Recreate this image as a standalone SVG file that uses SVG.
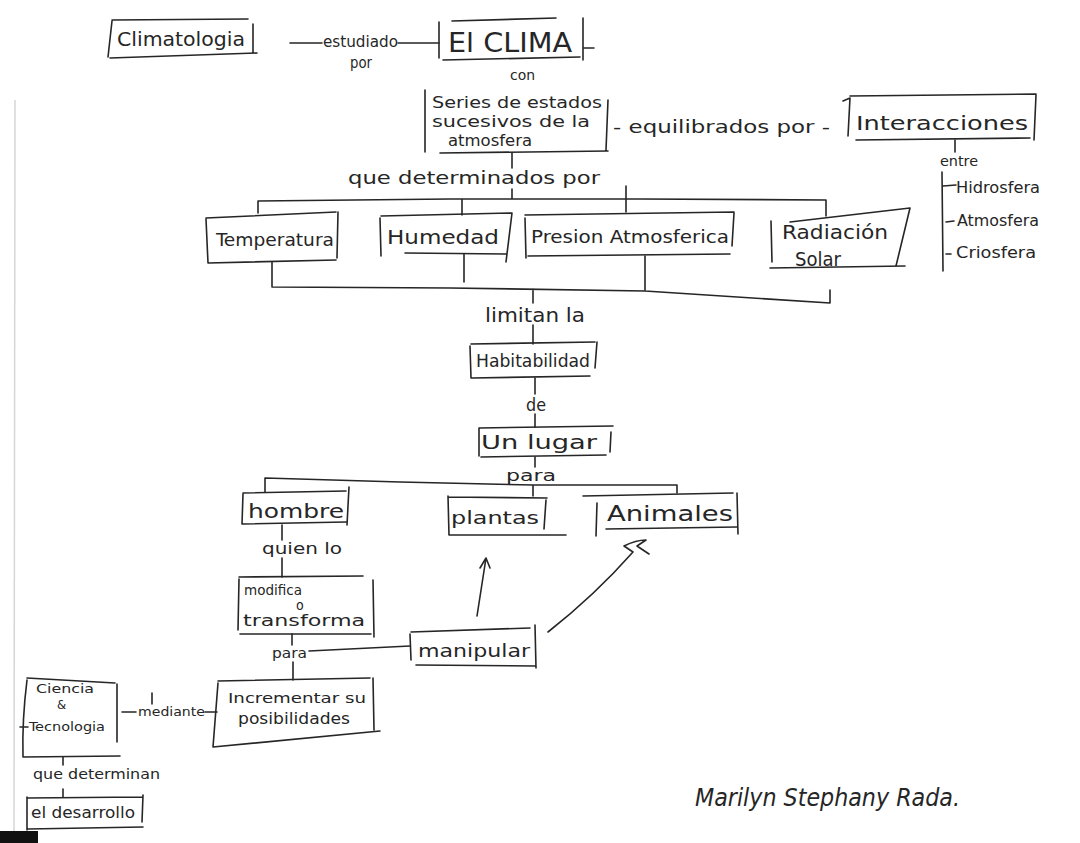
<svg xmlns="http://www.w3.org/2000/svg" width="1080" height="843" viewBox="0 0 1080 843">
  <defs>
    <style>
      .pen { fill: none; stroke: #262626; stroke-width: 1.6; stroke-linecap: round; stroke-linejoin: round; }
      .ink { fill: #262626; font-family: "Liberation Sans Narrow", "DejaVu Sans Condensed", "Liberation Sans", sans-serif; }
      .edge { fill: none; stroke: #d6d6d6; stroke-width: 1.5; }
    </style>
  </defs>

  <rect x="0" y="0" width="1080" height="843" fill="#ffffff"/>

  <!-- paper edge and scanner bar -->
  <path class="edge" d="M15 100 L14 836"/>
  <rect x="0" y="831" width="38" height="12" fill="#111111"/>

  <!-- Climatologia -->
  <g id="climatologia">
    <path class="pen" d="M112 21 L108 57 M112 20 L248 19 M253 24 L253 52 M110 58 L257 53"/>
    <text class="ink" x="117" y="46" font-size="20" textLength="128" lengthAdjust="spacingAndGlyphs">Climatologia</text>
  </g>

  <!-- El CLIMA -->
  <g id="el-clima">
    <path class="pen" d="M439 22 L439 58 M452 21 L556 18 M583 18 L583 60 M583 48 L594 48 M443 60 L580 57"/>
    <text class="ink" x="448" y="52" font-size="26" textLength="124" lengthAdjust="spacingAndGlyphs">El CLIMA</text>
  </g>

  <!-- Series de estados -->
  <g id="series">
    <path class="pen" d="M425 90 L425 152 M608 100 L606 150 M440 153 L608 151"/>
    <text class="ink" x="432" y="108" font-size="16" textLength="170" lengthAdjust="spacingAndGlyphs">Series de estados</text>
    <text class="ink" x="432" y="127" font-size="16" textLength="158" lengthAdjust="spacingAndGlyphs">sucesivos de la</text>
    <text class="ink" x="448" y="146" font-size="16" textLength="84" lengthAdjust="spacingAndGlyphs">atmosfera</text>
  </g>

  <!-- Interacciones -->
  <g id="interacciones">
    <path class="pen" d="M843 101 L850 98 L848 136 M850 96 L1036 94 M1036 95 L1034 140 M856 140 L1030 138"/>
    <text class="ink" x="856" y="130" font-size="20" textLength="172" lengthAdjust="spacingAndGlyphs">Interacciones</text>
  </g>

  <!-- Esferas -->
  <g id="esferas">
    <text class="ink" x="956" y="193" font-size="15" textLength="84" lengthAdjust="spacingAndGlyphs">Hidrosfera</text>
    <text class="ink" x="957" y="226" font-size="15" textLength="82" lengthAdjust="spacingAndGlyphs">Atmosfera</text>
    <text class="ink" x="956" y="258" font-size="15" textLength="80" lengthAdjust="spacingAndGlyphs">Criosfera</text>
  </g>

  <!-- Temperatura -->
  <g id="temperatura">
    <path class="pen" d="M206 219 L208 263 M206 218 L336 212 M338 212 L337 258 M208 263 L336 260"/>
    <text class="ink" x="216" y="246" font-size="18" textLength="118" lengthAdjust="spacingAndGlyphs">Temperatura</text>
  </g>

  <!-- Humedad -->
  <g id="humedad">
    <path class="pen" d="M380 218 L381 256 M381 216 L512 213 M512 213 L506 262 M405 253 L506 254"/>
    <text class="ink" x="387" y="244" font-size="19" textLength="112" lengthAdjust="spacingAndGlyphs">Humedad</text>
  </g>

  <!-- Presion Atmosferica -->
  <g id="presion">
    <path class="pen" d="M525 218 L526 258 M525 215 L734 212 M734 213 L732 246 M528 256 L730 254"/>
    <text class="ink" x="531" y="243" font-size="17" textLength="198" lengthAdjust="spacingAndGlyphs">Presion Atmosferica</text>
  </g>

  <!-- Radiación Solar -->
  <g id="radiacion">
    <path class="pen" d="M771 221 L772 262 M790 222 L910 208 M910 208 L896 266 M770 268 L905 266"/>
    <text class="ink" x="782" y="239" font-size="19" textLength="106" lengthAdjust="spacingAndGlyphs">Radiación</text>
    <text class="ink" x="795" y="266" font-size="19" textLength="46" lengthAdjust="spacingAndGlyphs">Solar</text>
  </g>

  <!-- Habitabilidad -->
  <g id="habitabilidad">
    <path class="pen" d="M470 346 L471 378 M471 344 L595 342 M597 342 L595 368 M472 378 L590 376"/>
    <text class="ink" x="476" y="367" font-size="18" textLength="114" lengthAdjust="spacingAndGlyphs">Habitabilidad</text>
  </g>

  <!-- Un lugar -->
  <g id="un-lugar">
    <path class="pen" d="M479 428 L479 456 M479 428 L613 426 M611 432 L610 452 M481 457 L606 455"/>
    <text class="ink" x="481" y="449" font-size="20" textLength="116" lengthAdjust="spacingAndGlyphs">Un lugar</text>
  </g>

  <!-- hombre -->
  <g id="hombre">
    <path class="pen" d="M243 494 L242 524 M243 493 L346 491 M349 487 L347 525 M243 524 L346 522"/>
    <text class="ink" x="248" y="518" font-size="19" textLength="96" lengthAdjust="spacingAndGlyphs">hombre</text>
  </g>

  <!-- plantas -->
  <g id="plantas">
    <path class="pen" d="M448 496 L449 535 M448 497 L547 498 M546 500 L544 529 M450 535 L566 535"/>
    <text class="ink" x="451" y="524" font-size="18" textLength="88" lengthAdjust="spacingAndGlyphs">plantas</text>
  </g>

  <!-- Animales -->
  <g id="animales">
    <path class="pen" d="M597 503 L596 536 M583 496 L733 493 M737 493 L738 534 M606 529 L737 527"/>
    <text class="ink" x="607" y="521" font-size="21" textLength="126" lengthAdjust="spacingAndGlyphs">Animales</text>
  </g>

  <!-- modifica o transforma -->
  <g id="modifica">
    <path class="pen" d="M239 579 L238 630 M239 577 L363 576 M373 580 L374 637 M240 634 L371 634"/>
    <text class="ink" x="244" y="595" font-size="14" textLength="58" lengthAdjust="spacingAndGlyphs">modifica</text>
    <text class="ink" x="296" y="610" font-size="14">o</text>
    <text class="ink" x="243" y="626" font-size="16" textLength="122" lengthAdjust="spacingAndGlyphs">transforma</text>
  </g>

  <!-- manipular -->
  <g id="manipular">
    <path class="pen" d="M410 634 L411 660 M411 632 L530 628 M535 625 L536 668 M416 665 L535 666"/>
    <text class="ink" x="418" y="657" font-size="18" textLength="112" lengthAdjust="spacingAndGlyphs">manipular</text>
  </g>

  <!-- Incrementar su posibilidades -->
  <g id="incrementar">
    <path class="pen" d="M218 683 L213 747 M218 681 L370 678 M373 678 L374 730 M213 747 L380 731"/>
    <text class="ink" x="228" y="703" font-size="14" textLength="138" lengthAdjust="spacingAndGlyphs">Incrementar su</text>
    <text class="ink" x="238" y="724" font-size="15" textLength="112" lengthAdjust="spacingAndGlyphs">posibilidades</text>
  </g>

  <!-- Ciencia & Tecnologia -->
  <g id="ciencia">
    <path class="pen" d="M27 680 Q22 720 23 757 M27 678 L115 683 M117 684 L117 742 M23 757 L120 756 M20 727 L28 727"/>
    <text class="ink" x="36" y="693" font-size="12" textLength="58" lengthAdjust="spacingAndGlyphs">Ciencia</text>
    <text class="ink" x="57" y="709" font-size="13">&amp;</text>
    <text class="ink" x="29" y="731" font-size="13" textLength="76" lengthAdjust="spacingAndGlyphs">Tecnologia</text>
  </g>

  <!-- el desarrollo -->
  <g id="desarrollo">
    <path class="pen" d="M27 797 L27 830 M27 798 L143 797 M143 795 L142 822 M28 829 L143 827"/>
    <text class="ink" x="31" y="818" font-size="15" textLength="104" lengthAdjust="spacingAndGlyphs">el desarrollo</text>
  </g>

  <!-- connectors and link labels -->
  <g id="connectors">
    <path class="pen" d="M290 43 L322 43 M398 43 L439 43"/>
    <text class="ink" x="323" y="47" font-size="16" textLength="75" lengthAdjust="spacingAndGlyphs">estudiado</text>
    <text class="ink" x="350" y="68" font-size="16" textLength="22" lengthAdjust="spacingAndGlyphs">por</text>
    <text class="ink" x="510" y="80" font-size="14" textLength="25" lengthAdjust="spacingAndGlyphs">con</text>

    <text class="ink" x="613" y="133" font-size="17" textLength="217" lengthAdjust="spacingAndGlyphs">- equilibrados por -</text>

    <path class="pen" d="M955 140 L955 152"/>
    <text class="ink" x="940" y="166" font-size="14" textLength="38" lengthAdjust="spacingAndGlyphs">entre</text>
    <path class="pen" d="M942 172 L943 271 M943 186 L956 185 M946 222 L954 221 M946 254 L951 254"/>

    <path class="pen" d="M512 153 L512 168"/>
    <text class="ink" x="348" y="184" font-size="18" textLength="252" lengthAdjust="spacingAndGlyphs">que determinados por</text>
    <path class="pen" d="M512 189 L512 199 M626 186 L626 212 M258 201 L450 199 L640 199 L826 200 M258 201 L258 213 M462 199 L462 215 M826 200 L826 216"/>

    <path class="pen" d="M272 262 L272 287 L450 288 L645 291 L830 303 L830 290 M464 254 L464 282 M645 256 L645 291 M533 289 L533 303"/>
    <text class="ink" x="485" y="322" font-size="19" textLength="100" lengthAdjust="spacingAndGlyphs">limitan la</text>
    <path class="pen" d="M533 325 L533 344"/>

    <path class="pen" d="M535 378 L535 394"/>
    <text class="ink" x="526" y="411" font-size="17" textLength="20" lengthAdjust="spacingAndGlyphs">de</text>
    <path class="pen" d="M535 414 L535 427"/>

    <path class="pen" d="M535 457 L535 467"/>
    <text class="ink" x="506" y="481" font-size="16" textLength="50" lengthAdjust="spacingAndGlyphs">para</text>
    <path class="pen" d="M265 478 L400 482 L533 485 L677 485 M265 478 L265 492 M533 485 L533 496 M677 485 L677 493"/>

    <path class="pen" d="M282 525 L282 540"/>
    <text class="ink" x="262" y="554" font-size="16" textLength="80" lengthAdjust="spacingAndGlyphs">quien lo</text>
    <path class="pen" d="M282 558 L282 577"/>

    <path class="pen" d="M292 634 L292 645"/>
    <text class="ink" x="272" y="658" font-size="14" textLength="35" lengthAdjust="spacingAndGlyphs">para</text>
    <path class="pen" d="M309 651 L410 646 M293 662 L293 680"/>

    <path class="pen" d="M477 616 L486 558 M480 568 L486 558 L490 568"/>
    <path class="pen" d="M548 632 Q595 595 633 552 M633 552 L624 546 Q636 540 646 540 L637 546 L649 554"/>

    <path class="pen" d="M122 712 L136 712 M205 712 L217 712 M152 693 L152 704"/>
    <text class="ink" x="138" y="716" font-size="13" textLength="67" lengthAdjust="spacingAndGlyphs">mediante</text>

    <path class="pen" d="M63 757 L63 765"/>
    <text class="ink" x="33" y="779" font-size="14" textLength="127" lengthAdjust="spacingAndGlyphs">que determinan</text>
    <path class="pen" d="M63 789 L63 797"/>
  </g>

  <!-- signature -->
  <g id="firma">
    <text class="ink" x="695" y="806" font-size="24" font-style="italic" textLength="265" lengthAdjust="spacingAndGlyphs">Marilyn Stephany Rada.</text>
  </g>
</svg>
